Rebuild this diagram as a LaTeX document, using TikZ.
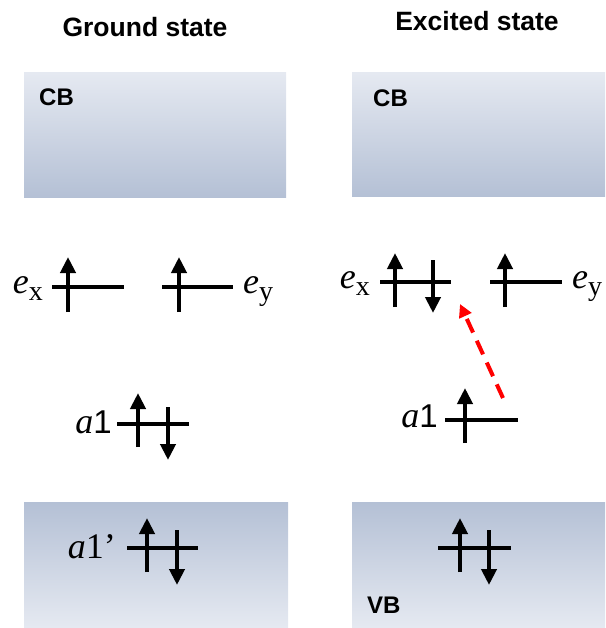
\documentclass[tikz,border=0pt]{standalone}
\usepackage{fontspec}
\setmainfont{Liberation Serif}
\newfontfamily\arialf{Liberation Sans}
\usetikzlibrary{arrows.meta}
\definecolor{bandlight}{RGB}{229,233,241}
\definecolor{banddark}{RGB}{180,192,213}
\begin{document}
\begin{tikzpicture}[x=1pt,y=-1pt,
  lvl/.style={line width=4pt},
  spin/.style={line width=4pt,-{Triangle[width=15pt,length=16pt]}},
  titletext/.style={font=\arialf\bfseries\fontsize{26.5}{26.5}\selectfont,inner sep=0pt},
  bandtext/.style={font=\arialf\bfseries\fontsize{24}{24}\selectfont,inner sep=0pt},
  lab/.style={inner sep=0pt,font=\fontsize{36}{36}\selectfont},
  cbband/.style={top color=bandlight,bottom color=banddark},
  vbband/.style={top color=banddark,bottom color=bandlight},
  excite/.style={red,line width=4pt,dash pattern=on 15pt off 9pt,-{Triangle[width=13pt,length=13pt]}}
]
\useasboundingbox (0,0) rectangle (605,628);
% bands
\shade[cbband] (24,73) rectangle (286,198);
\shade[cbband] (352,73) rectangle (605,197);
\shade[vbband] (24,502) rectangle (288,627);
\shade[vbband] (352,502) rectangle (605,627);
% titles
\node[titletext,anchor=base] (gtitle) at (145,37) {Ground state};
\node[titletext,anchor=base] (etitle) at (477,31) {Excited state};
\node[bandtext,anchor=base west] (gcb) at (39,106) {CB};
\node[bandtext,anchor=base west] (ecb) at (373,107) {CB};
\node[bandtext,anchor=base west] (evb) at (367,613) {VB};
% ground state e levels
\draw[lvl] (52,287) -- (124,287);
\draw[spin] (68,312) -- (68,257);
\draw[lvl] (162,287) -- (233,287);
\draw[spin] (179,312) -- (179,257);
\node[lab,anchor=base east] (gex) at (43,293) {\textit{e}\raisebox{-7pt}{\fontsize{28}{28}\selectfont x}};
\node[lab,anchor=base west] (gey) at (243,293) {\textit{e}\raisebox{-7pt}{\fontsize{28}{28}\selectfont y}};
% ground a1
\draw[lvl] (117,424) -- (189,424);
\draw[spin] (138,447) -- (138,393);
\draw[spin] (168,407) -- (168,460);
\node[lab,anchor=base east] (ga1) at (112,433) {\textit{a}{\arialf\fontsize{33}{33}\selectfont 1}};
% ground a1'
\draw[lvl] (127,548) -- (198,548);
\draw[spin] (147,572) -- (147,518);
\draw[spin] (177,530) -- (177,585);
\node[lab,anchor=base east] (ga1p) at (116,558) {\textit{a}1’};
% excited e levels
\draw[lvl] (380,282) -- (451,282);
\draw[spin] (395,307) -- (395,253);
\draw[spin] (433,260) -- (433,313);
\draw[lvl] (490,282) -- (562,282);
\draw[spin] (505,307) -- (505,253);
\node[lab,anchor=base east] (eex) at (370,288) {\textit{e}\raisebox{-7pt}{\fontsize{28}{28}\selectfont x}};
\node[lab,anchor=base west] (eey) at (572,288) {\textit{e}\raisebox{-7pt}{\fontsize{28}{28}\selectfont y}};
% excited a1
\draw[lvl] (445,420) -- (518,420);
\draw[spin] (465,443) -- (465,388);
\node[lab,anchor=base east] (ea1) at (438,427) {\textit{a}{\arialf\fontsize{33}{33}\selectfont 1}};
% excited VB
\draw[lvl] (438,548) -- (511,548);
\draw[spin] (460,572) -- (460,518);
\draw[spin] (489,530) -- (489,585);
% excitation
\coordinate (xfrom) at (503,398);
\coordinate (xto) at (460,304);
\draw[excite] (xfrom) -- (xto);
\end{tikzpicture}
\end{document}
